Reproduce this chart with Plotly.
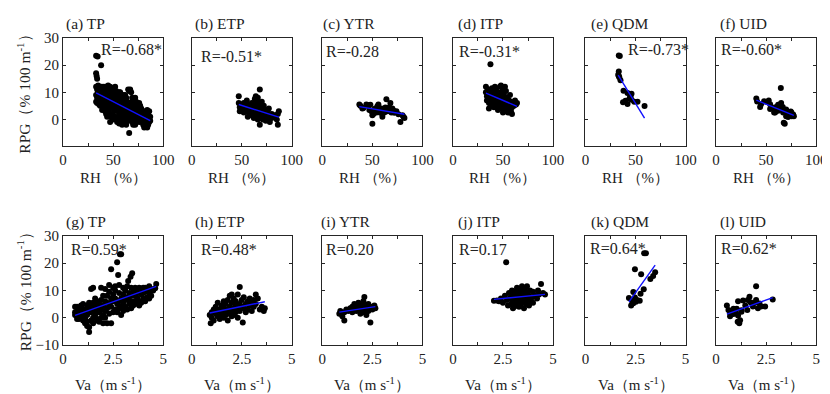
import numpy as np
import plotly.graph_objects as go

# ---------------- DATA ----------------
panel_titles = ["(a) TP", "(b) ETP", "(c) YTR", "(d) ITP", "(e) QDM", "(f) UID",
                "(g) TP", "(h) ETP", "(i) YTR", "(j) ITP", "(k) QDM", "(l) UID"]
r_labels = ["R=-0.68*", "R=-0.51*", "R=-0.28", "R=-0.31*", "R=-0.73*", "R=-0.60*",
            "R=0.59*", "R=0.48*", "R=0.20", "R=0.17", "R=0.64*", "R=0.62*"]

# Row 1: RH (%) vs RPG
tp_rh_x = [33,34.5,33,33.5,34,33,34,35,33,34,35,33,34,36,35,36,36,
           38,37,38,39,40,37,38,39,40,41,41,40,37,39,41,38,40,41,
           42,43,44,45,42,43,44,45,46,42,43,44,45,46,46,43,45,44,42,46,
           47,48,49,50,47,48,49,50,51,47,48,49,50,51,47,48,49,51,50,51,
           52,53,54,55,52,53,54,55,56,52,53,54,55,56,52,53,54,56,55,56,
           57,58,59,60,57,58,59,60,61,57,58,59,60,61,57,58,61,59,60,61,
           62,63,64,65,62,63,64,65,66,62,63,65,66,64,66,62,63,65,66,66,
           67,68,69,70,67,68,69,70,71,67,68,69,70,71,67,68,70,71,69,
           72,73,74,75,72,73,74,75,76,72,73,75,76,74,76,
           77,78,79,80,77,78,79,80,81,81,79,78,
           82,83,84,85,86,83,84,85,86,87,87,82,85,84]
tp_rh_y = [23.5,23.2,17,16,15,12,11,10,9,8,7.5,6.5,6,5.5,12.5,9,7,
           20,11,12,10,9,8.5,7,6,5,4,11,7.5,5,3.5,8,9.5,12,6,
           12,11,10,9,8,7,6,5,4,3,2,1,12.5,11,7.5,9.5,3,8.5,5.5,2,
           12,11,10,9,8,6.5,5,4,3,-1,1,2,11.5,7,4.5,9,7.5,1,0,5.5,
           12,10.5,9,8,7,5.5,4,3,2,1,0,-1,6,10,3.5,8,6.5,4.5,0.5,-1.5,
           10,8.5,7.5,6,5,4,3,2,1,0,-1,-2,9,5,7,2,3.5,5.5,-0.5,7.5,
           9,8,6.5,5.5,4.5,3,2,1,0,-1,-2,11,10.5,4,6,7,0.5,-0.5,3,-5,
           11,10,8,7,6,5,4,3,2,1,0,-1,-2,5,3,2.5,0.5,-0.5,6,
           8,6.5,5,4,3,2,1,0,-1,-2,4.5,2,3,-0.5,6,
           5,4,3,2,1,0,-1,-2,-3,1,1.5,2.5,
           3,2,1,0,-1,-2,-3,2.5,3,1,-0.5,0,-2,3.5]

etp_rh_x = [47,47,48,48,50,51,52,52,53,54,55,55,56,56,57,58,58,59,60,60,61,61,62,62,
            63,63,64,64,64,65,65,65,66,66,66,67,67,67,68,68,68,68,69,69,69,70,70,70,
            71,71,72,72,73,73,74,74,75,75,76,76,77,78,78,80,80,82,85,86,87,86,83]
etp_rh_y = [8.5,6,4.5,3,5,4,6,2.5,4.5,3,5.5,7,3.5,1,4,5,2,3.5,1.5,6,4.5,2.5,3,0.5,
            5,7.5,8.5,4,1.5,2.5,6.5,3.5,0,5,8,2,4,6,11,-2,3,1,5,2.5,0.5,3.5,6.5,1.5,
            4.5,0,2.5,5,1,3.5,2,-0.5,3,1,2.5,0,4,1.5,-1,2,0.5,1,0,2,3,-2,1.5]

ytr_rh_x = [37,38,40,41,44,45,46,47,48,49,50,50,51,52,53,54,55,56,57,58,59,60,61,62,
            63,64,65,66,67,68,69,70,71,72,74,76,78,80,81,82]
ytr_rh_y = [5.5,5,4,4.2,5.5,5,5.2,3.5,5.4,3,1.5,-1.6,2,3.6,4,2.5,4.8,5.5,3.5,2.4,4,1,3.3,2.5,
            4.4,7.4,3,3.6,4.5,6,2.5,4,3.3,2.4,3,1.9,-1,1.5,1,0.5]

itp_rh_x = [33,33,34,34,35,35,36,36,37,37,38,38,39,39,40,40,41,41,42,42,43,43,44,44,
            45,45,46,46,47,47,48,48,49,49,49,50,50,50,51,51,52,52,52,53,53,54,54,55,55,
            56,56,57,57,58,58,59,59,60,61,62,63,64,37.5,45,42,40,47]
itp_rh_y = [12,10,8.5,7,11,9,6,4,8,10.5,7,5,9,11.5,6.5,8,10,4.5,7.5,9,5.5,11,8.5,6,
            7,3.5,9.5,5,12,7.5,12.5,6,10,4,8,11,6.5,2.5,9,5,12,7.5,3,10.5,6,8,4,5.5,2.5,
            7,3.5,5,9,6.5,3,4.5,2,6,5,7,5.5,6,20.3,10,12,10.5,4.5]

qdm_rh_x = [33.3,34.3,33.3,32.7,33.3,33.8,35,38,42,46,37.5,42,44,46,48.7,52,59,40,45]
qdm_rh_y = [23.6,23.4,17.7,16.5,16,15.5,14.4,10.6,9.7,9.5,6.3,5.7,7.7,7.2,6.5,6.5,4.9,6.9,8.5]

uid_rh_x = [40.2,41,44,45,48,51,54,52.6,56,59,60,62,64,66,67,69,70,71,67.6,68.6,72,74,
            75.6,77,74.6,65,64.7,58,60.6,66.6,70,72.6,75.2,77.7,54,57,62]
uid_rh_y = [7.7,6.6,4.6,5.6,6.7,6.4,5.6,7,4.3,2.5,4.6,5.4,4.3,3.6,2.5,3,1.2,1.8,-1.2,-1.6,0.9,1.8,
            1.2,1.8,2.9,6,11.6,2.5,3.5,4.6,3.6,2.7,2.5,1.2,3.8,4.3,3.2]

# Row 2: Va (m s-1) vs RPG
tp_va_x = [0.6,0.6,0.7,0.7,0.8,0.8,0.9,0.9,1.0,1.0,0.6,0.8,1.0,0.7,0.9,
           1.1,1.1,1.2,1.2,1.2,1.3,1.3,1.3,1.4,1.4,1.4,1.5,1.5,1.5,1.1,1.2,1.3,1.4,1.5,1.5,1.1,1.3,
           1.6,1.6,1.7,1.7,1.7,1.8,1.8,1.8,1.9,1.9,1.9,2.0,2.0,2.0,1.6,1.8,2.0,1.9,1.6,1.7,
           2.1,2.1,2.1,2.2,2.2,2.2,2.3,2.3,2.3,2.4,2.4,2.4,2.4,2.5,2.5,2.5,2.2,2.1,2.3,2.5,
           2.6,2.6,2.6,2.7,2.7,2.7,2.75,2.8,2.8,2.8,2.84,2.9,2.9,2.9,3.0,3.0,3.0,3.0,2.6,2.8,2.9,
           3.1,3.1,3.1,3.2,3.2,3.25,3.3,3.3,3.37,3.4,3.4,3.4,3.5,3.5,3.2,3.3,3.5,3.45,
           3.6,3.6,3.6,3.7,3.7,3.7,3.8,3.8,3.8,3.9,3.9,3.9,4.0,4.0,4.0,3.6,3.8,
           4.1,4.1,4.2,4.65,4.2,4.3,4.3,4.4,4.4,4.5,4.6,4.1,4.3,
           0.7,0.8,1.0,1.2,1.1,0.9]
tp_va_y = [4,1,2.5,0.5,3.5,1.5,4.5,0,2,5,2,-0.5,-1,4,2.8,
           3,-2,1,2,-3,-5.2,2.5,3.5,4,-1,10.5,0,5.5,11,1.5,4.5,-3.5,2,-2,3,0.5,5.5,
           7,1,3.5,-0.5,-1,5,2,3.5,0,6.5,3,4.5,8,1,2.5,-1.5,-2,11,4.5,6,
           2.5,6,10.5,3.5,-2,8,5,1.5,9.5,4,7,17.7,-2,6,2,11,5.5,0,12,8.5,
           3,7,10,5,2,20.3,15.6,6,9,3.5,23.2,23.2,7,4,5.5,8.5,11,2.5,11.5,12,1,
           6.5,4,10,7.5,3,13.4,9,5,15,8,11,3.5,6,9.5,11.5,6.5,4.5,16.3,
           8,5,11,7,5.5,9.5,6,11,4.5,8.5,10,5.5,7,11,9,9,9,
           9.5,6,10,12.3,7.5,9,7,8,10.5,10,10.8,11,11.5,
           -0.5,0,0.5,-1.5,-0.5,1.5]

etp_va_x = [0.9,0.95,1.0,1.0,1.1,1.1,1.2,1.2,1.3,1.3,1.4,1.4,1.5,1.5,1.5,1.6,1.6,1.7,1.7,1.7,
            1.8,1.8,1.8,1.9,1.9,1.9,2.0,2.0,2.0,2.1,2.1,2.1,2.2,2.2,2.2,2.3,2.3,2.3,2.4,2.4,2.4,
            2.5,2.55,2.5,2.6,2.6,2.7,2.7,2.8,2.8,2.9,2.9,3.0,3.0,3.1,3.1,3.2,3.2,3.3,3.4,3.5,
            3.6,3.65,1.3,1.6,2.0]
etp_va_y = [1,-2,0,2,3,-1,1.5,4,2.5,0.5,3,-0.5,1,4.5,2,3.5,0,2.5,5,1,
            3,6.5,-1,4,1.5,8,2.5,5.5,0.5,7,3.5,1,4.5,2,6,3,8.5,0,11.2,5,2.5,
            4,-1.7,6.5,3.5,7.5,5,2,6,3,4.5,7,5.5,2.5,6.5,4,8.5,5,7,3,4,
            2.5,3.5,5.5,6,8.5]

ytr_va_x = [0.85,0.9,1.0,1.1,1.1,1.2,1.3,1.4,1.5,1.5,1.6,1.6,1.7,1.7,1.8,1.8,1.9,1.9,
            2.0,2.0,2.05,2.1,2.1,2.15,2.2,2.2,2.3,2.3,2.4,2.4,2.5,2.6,2.65]
ytr_va_y = [1.5,2.5,0.5,-1,2,3,2.5,3.5,2,4,5,3,4.5,2.5,5.5,3.5,4,1.5,
            5,3,6,7.6,2,4.5,1,3.5,5,2.5,-1.7,4,3,4.5,3.5]

itp_va_x = [2.05,2.2,2.3,2.4,2.5,2.6,2.66,2.7,2.75,2.8,2.85,2.9,2.95,3.0,3.0,3.05,3.1,3.1,
            3.15,3.2,3.2,3.25,3.3,3.3,3.35,3.4,3.4,3.45,3.5,3.5,3.55,3.6,3.6,3.65,3.7,3.7,
            3.75,3.8,3.8,3.85,3.9,3.95,4.0,4.0,4.1,4.2,4.25,4.3,4.4,4.5,4.6,3.0,2.9,3.2,3.5]
itp_va_y = [6.2,6.3,6,7,5.5,8,20.3,6.5,4.5,9,7,5,10,6,8,4,9.5,7,
            5.5,11,8.5,6.5,4,10,7.5,5,9,11.5,6,8,3.5,10.5,7,5,9,11.5,
            6.5,4.5,8,10,6,7.5,9.5,5.5,8,7,10,8.5,12.3,9,8.5,3.5,7.5,4.5,10]

qdm_va_x = [2.93,3.02,2.47,2.78,3.48,3.24,3.38,2.91,2.39,2.75,2.17,2.47,2.58,2.71,2.28,2.39,2.52,2.33]
qdm_va_y = [23.6,23.6,17.7,15.9,16.6,14.2,15.3,10.4,9.4,8.8,7.2,7.4,6.5,6.2,4.5,5.3,5.8,6.0]

uid_va_x = [0.54,0.62,0.7,0.78,0.87,0.95,1.03,1.1,1.08,1.16,1.2,1.27,1.1,1.35,1.46,1.56,
            1.72,1.84,1.93,2.0,2.09,2.17,2.25,2.45,2.83,1.67,1.59,2.0,0.7,0.87,1.0,1.27]
uid_va_y = [4.5,2.8,1.6,2.2,1.4,2.5,3.3,0.8,-1.5,-2,-0.9,2.7,6,6.3,4.5,2.8,
            5.7,4.1,5.5,11.5,3.5,5.2,4.1,4.1,6.7,7.7,6.5,6.5,0.5,3.3,1.6,2.2]

xs = [tp_rh_x, etp_rh_x, ytr_rh_x, itp_rh_x, qdm_rh_x, uid_rh_x,
      tp_va_x, etp_va_x, ytr_va_x, itp_va_x, qdm_va_x, uid_va_x]
ys = [tp_rh_y, etp_rh_y, ytr_rh_y, itp_rh_y, qdm_rh_y, uid_rh_y,
      tp_va_y, etp_va_y, ytr_va_y, itp_va_y, qdm_va_y, uid_va_y]

rh_ticks = [0, 50, 100]
va_ticks = [0, 2.5, 5]
rpg_ticks_top = [0, 10, 20, 30]
rpg_ticks_bottom = [-10, 0, 10, 20, 30]

# ---------------- LAYOUT ----------------
W, H = 830, 394
FONT = "Liberation Serif"
TXT = "#222222"
col_left = [52, 183, 316, 449, 584, 717]
PW = 102
row_top = [23, 229]
PH = [113, 114]

title_px = [(53, 8), (184, 8), (315, 8), (452, 8), (588, 8), (719, 8),
            (53, 215), (184, 215), (313, 215), (452, 215), (588, 215), (719, 215)]
r_px = [(89, 35), (190, 42), (318, 37), (453, 37), (625, 35), (720, 35),
        (58, 243), (190, 243), (318, 243), (453, 243), (587, 242), (720, 242)]
xtitle_y = [169, 384]
ytitle_y = [77, 283]

def px(x, y):
    return x / W, 1 - y / H

fig = go.Figure()
annotations = []
for i in range(12):
    r, c = divmod(i, 6)
    n = i + 1
    xa = "x" if n == 1 else f"x{n}"
    ya = "y" if n == 1 else f"y{n}"
    x = np.array(xs[i], dtype=float)
    y = np.array(ys[i], dtype=float)
    fig.add_trace(go.Scatter(x=x, y=y, mode="markers", xaxis=xa, yaxis=ya,
                             marker=dict(color="black", size=6, line=dict(width=0)),
                             showlegend=False, hoverinfo="skip"))
    k, b = np.polyfit(x, y, 1)
    lx = np.array([x.min(), x.max()])
    fig.add_trace(go.Scatter(x=lx, y=k * lx + b, mode="lines", xaxis=xa, yaxis=ya,
                             line=dict(color="#1010ff", width=1.4),
                             showlegend=False, hoverinfo="skip"))

    left = col_left[c]
    top = row_top[r]
    ph = PH[r]
    axis_common = dict(showline=True, linecolor="#262626", linewidth=1, mirror="ticks",
                       ticks="inside", ticklen=3, tickcolor="#262626", showgrid=False,
                       zeroline=False, tickfont=dict(family=FONT, size=15, color=TXT))
    if r == 0:
        xcfg = dict(range=[0, 100], tickmode="array", tickvals=rh_ticks,
                    minor=dict(ticks="inside", ticklen=3, tickcolor="#262626", dtick=25, tick0=0, showgrid=False))
        ycfg = dict(range=[-10, 30], tickmode="array", tickvals=rpg_ticks_top)
    else:
        xcfg = dict(range=[0, 5], tickmode="array", tickvals=va_ticks, ticktext=["0", "2.5", "5"],
                    minor=dict(ticks="inside", ticklen=3, tickcolor="#262626", dtick=1.25, tick0=0, showgrid=False))
        ycfg = dict(range=[-10, 30], tickmode="array", tickvals=rpg_ticks_bottom)
    fig.layout[("xaxis" if n == 1 else f"xaxis{n}")] = dict(
        domain=[left / W, (left + PW) / W], anchor=ya, **xcfg, **axis_common)
    fig.layout[("yaxis" if n == 1 else f"yaxis{n}")] = dict(
        domain=[1 - (top + ph) / H, 1 - top / H], anchor=xa,
        showticklabels=(c == 0), **ycfg, **axis_common)

    tx, ty = px(*title_px[i])
    annotations.append(dict(text=panel_titles[i], x=tx, y=ty, xref="paper", yref="paper",
                            xanchor="left", yanchor="middle", showarrow=False,
                            font=dict(family=FONT, size=15.5, color=TXT)))
    rx, ry = px(*r_px[i])
    annotations.append(dict(text=r_labels[i], x=rx, y=ry, xref="paper", yref="paper",
                            xanchor="left", yanchor="middle", showarrow=False,
                            font=dict(family=FONT, size=16, color=TXT)))
    axt = "RH （%）" if r == 0 else "Va（m s<sup>-1</sup>）"
    ax_x, ax_y = px(left + PW / 2, xtitle_y[r])
    annotations.append(dict(text=axt, x=ax_x, y=ax_y, xref="paper", yref="paper",
                            xanchor="center", yanchor="middle", showarrow=False,
                            font=dict(family=FONT, size=15, color=TXT)))

for r in range(2):
    yx, yy = px(12, ytitle_y[r])
    annotations.append(dict(text="RPG（% 100 m<sup>-1</sup>）", x=yx, y=yy, xref="paper", yref="paper",
                            xanchor="center", yanchor="middle", textangle=-90, showarrow=False,
                            font=dict(family=FONT, size=15.5, color=TXT)))

fig.update_layout(width=W, height=H, margin=dict(l=0, r=0, t=0, b=0),
                  paper_bgcolor="white", plot_bgcolor="white",
                  annotations=annotations)
fig.write_html("out.html")
